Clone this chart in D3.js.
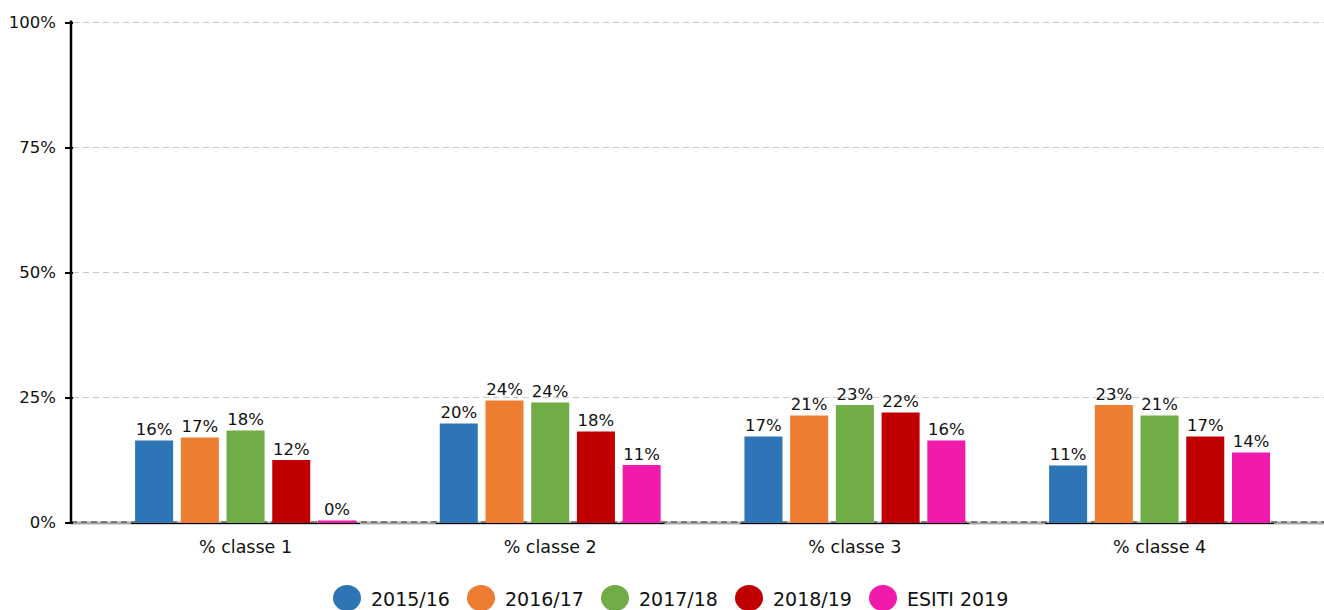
<!DOCTYPE html>
<html>
<head>
<meta charset="utf-8">
<script src="https://cdn.jsdelivr.net/npm/d3@7"></script>
<style>
  body { margin: 0; background: #fff; }
  text { font-family: "DejaVu Sans", sans-serif; fill: #111; }
</style>
</head>
<body>
<div id="chart"></div>
<script>
// data (percent)
const categories = ["% classe 1", "% classe 2", "% classe 3", "% classe 4"];
const seriesNames = ["2015/16", "2016/17", "2017/18", "2018/19", "ESITI 2019"];
const seriesColors = ["#2e75b6", "#ed7d31", "#70ad47", "#c00000", "#f01aad"];
const v2015 = [16.3, 19.7, 17.1, 11.3];
const v2016 = [16.9, 24.3, 21.3, 23.4];
const v2017 = [18.3, 23.9, 23.4, 21.3];
const v2018 = [12.4, 18.1, 21.9, 17.1];
const vEsiti = [0.3, 11.4, 16.3, 13.9];
const yTicks = [0, 25, 50, 75, 100];

const seriesValues = [v2015, v2016, v2017, v2018, vEsiti];

let width = 1324,
    height = 610;

let svg = d3.select("#chart")
    .append("svg")
    .attr("width", width)
    .attr("height", height);

// scales
let y = d3.scaleLinear()
    .domain([0, 100])
    .range([522.5, 22.5]);

let x0 = d3.scaleBand()
    .domain(categories)
    .range([93.2, 1311.9])
    .paddingInner(0.275)
    .paddingOuter(0.1375);

let x1 = d3.scaleBand()
    .domain(seriesNames)
    .range([0, x0.bandwidth()])
    .paddingInner(0.1685)
    .paddingOuter(0);

// grid lines
svg.append("g")
    .selectAll("line")
    .data(yTicks.filter(d => d > 0))
    .enter()
    .append("line")
    .attr("x1", 73)
    .attr("x2", width)
    .attr("y1", d => y(d))
    .attr("y2", d => y(d))
    .attr("stroke", "#c8c8c8")
    .attr("stroke-dasharray", "6,4");

// baseline at 0
svg.append("line")
    .attr("x1", 71).attr("x2", width)
    .attr("y1", y(0) + 0.5).attr("y2", y(0) + 0.5)
    .attr("stroke", "#aaa")
    .attr("stroke-width", 3);
svg.append("line")
    .attr("x1", 71).attr("x2", width)
    .attr("y1", y(0) - 0.5).attr("y2", y(0) - 0.5)
    .attr("stroke", "#333")
    .attr("stroke-dasharray", "6,4");

// bars
let rows = [];
categories.forEach((c, i) => {
  seriesNames.forEach((s, j) => {
    rows.push({cat: c, name: s, value: seriesValues[j][i], color: seriesColors[j]});
  });
});

let groups = svg.append("g");

// bottom edge under bars
groups.selectAll("line")
    .data(rows)
    .enter()
    .append("line")
    .attr("x1", d => x0(d.cat) + x1(d.name) - 4)
    .attr("x2", d => x0(d.cat) + x1(d.name) + x1.bandwidth() + 4)
    .attr("y1", y(0) + 1)
    .attr("y2", y(0) + 1)
    .attr("stroke", "#000")
    .attr("stroke-width", 1);

groups.selectAll("rect")
    .data(rows)
    .enter()
    .append("rect")
    .attr("x", d => x0(d.cat) + x1(d.name))
    .attr("width", x1.bandwidth())
    .attr("y", d => y(d.value) - 0.5)
    .attr("height", d => y(0) - y(d.value) + 1)
    .attr("fill", d => d.color);

// value labels
svg.append("g")
    .selectAll("text")
    .data(rows)
    .enter()
    .append("text")
    .attr("x", d => x0(d.cat) + x1(d.name) + x1.bandwidth() / 2)
    .attr("y", d => y(d.value) - 6)
    .attr("text-anchor", "middle")
    .style("font-size", "16.5px")
    .text(d => Math.round(d.value) + "%");

// y axis
let yAxis = svg.append("g")
    .attr("transform", "translate(71,0)")
    .call(d3.axisLeft(y).tickValues(yTicks).tickSize(6).tickFormat(d => d + "%"));
yAxis.select(".domain")
    .attr("stroke", "#000")
    .attr("stroke-width", 2.5)
    .attr("d", "M0," + (y(100) - 2) + "V" + (y(0) + 1));
yAxis.selectAll(".tick line")
    .attr("x1", 2)
    .attr("stroke", "#000")
    .attr("stroke-width", 2);
yAxis.selectAll(".tick text")
    .attr("x", -15)
    .style("font-size", "16.5px")
    .style("font-family", "DejaVu Sans, sans-serif")
    .attr("fill", "#111");

// category labels
svg.append("g")
    .selectAll("text")
    .data(categories)
    .enter()
    .append("text")
    .attr("x", d => x0(d) + x0.bandwidth() / 2)
    .attr("y", 553)
    .attr("text-anchor", "middle")
    .style("font-size", "17.5px")
    .text(d => d);

// legend
let legend = svg.append("g")
    .selectAll("g")
    .data(seriesNames)
    .enter()
    .append("g")
    .attr("transform", (d, i) => "translate(" + (347 + i * 134) + ",598)");

legend.append("ellipse")
    .attr("rx", 14)
    .attr("ry", 13)
    .attr("fill", (d, i) => seriesColors[i]);

legend.append("text")
    .attr("x", 24)
    .attr("y", 8)
    .style("font-size", "19px")
    .text(d => d);
</script>
</body>
</html>
